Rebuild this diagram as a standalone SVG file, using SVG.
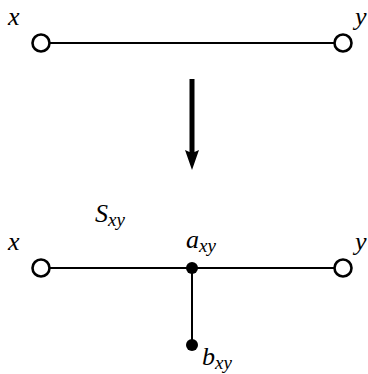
<svg xmlns="http://www.w3.org/2000/svg" width="368" height="374" viewBox="0 0 368 374">
<style>
.e{stroke:#000;stroke-width:2;fill:none}
.o{fill:#fff;stroke:#000;stroke-width:2.6}
.d{fill:#000}
.t{font-family:'Liberation Serif','DejaVu Serif',serif;font-style:italic;fill:#000}
.m{font-size:26px}
.s{font-size:19px}
</style>
<g id="connectors">
<line class="e" x1="41" y1="43" x2="343" y2="43"/>
<line class="e" x1="41" y1="268" x2="343" y2="268"/>
<line class="e" x1="192" y1="268" x2="192" y2="345"/>
<path d="M189.5 79 H194.5 V152 L199 150 L192 170 L185 150 L189.5 152 Z" fill="#000"/>
</g>
<g id="x1"><circle class="o" cx="41" cy="43" r="8.5"/><text class="t m" x="8" y="25">x</text></g>
<g id="y1"><circle class="o" cx="343" cy="43" r="8.5"/><text class="t m" x="355" y="25">y</text></g>
<g id="x2"><circle class="o" cx="41" cy="268" r="8.5"/><text class="t m" x="8" y="250">x</text></g>
<g id="y2"><circle class="o" cx="343" cy="268" r="8.5"/><text class="t m" x="355" y="250">y</text></g>
<g id="a"><circle class="d" cx="192" cy="268" r="6"/><text class="t m" x="186" y="248">a<tspan class="s" dy="4">xy</tspan></text></g>
<g id="b"><circle class="d" cx="192" cy="345" r="6"/><text class="t m" x="202" y="365">b<tspan class="s" dy="4">xy</tspan></text></g>
<g id="S"><text class="t m" x="95" y="222">S<tspan class="s" dy="4">xy</tspan></text></g>
</svg>
